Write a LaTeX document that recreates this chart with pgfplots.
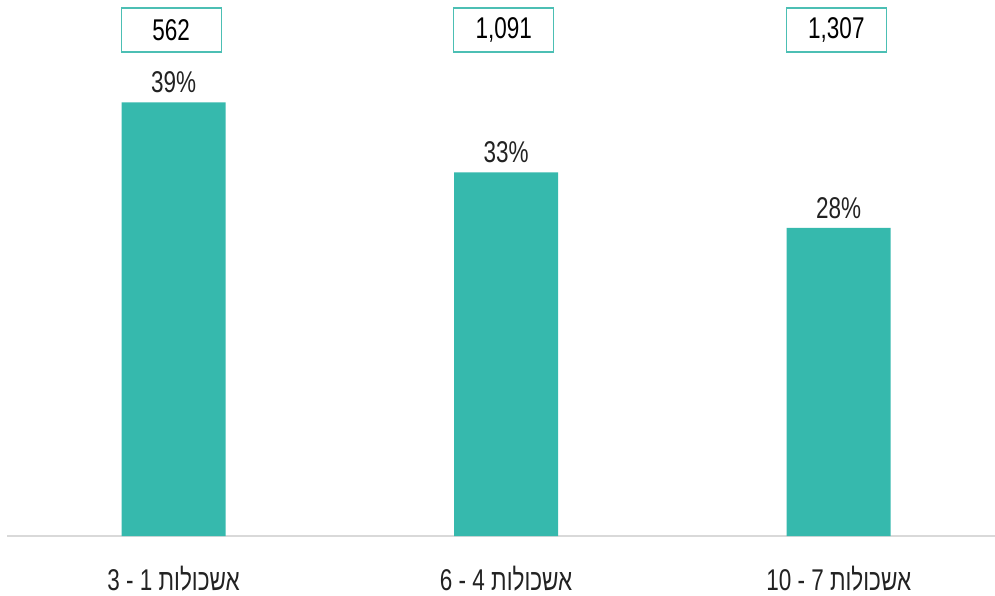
\documentclass[border=0pt]{standalone}
\usepackage{fontspec}
\setmainfont[FakeStretch=0.75]{Liberation Sans}
\newfontfamily\hebfont[Script=Hebrew,FakeStretch=0.75]{Liberation Sans}
\TeXXeTstate=1
\usepackage{pgfplots}
\pgfplotsset{compat=1.18}
\definecolor{barteal}{HTML}{36B9AD}
\definecolor{boxteal}{HTML}{4CBFB4}
\definecolor{axisgray}{HTML}{D9D9D9}
\definecolor{txt}{HTML}{222222}
\newcommand{\heb}[1]{{\hebfont\beginR #1\endR}}
\begin{document}
\begin{tikzpicture}
\useasboundingbox (0,0) rectangle (995pt,595pt);
\begin{axis}[
  at={(7.25pt,59pt)}, anchor=south west,
  scale only axis,
  width=987.75pt, height=536pt,
  xmin=-0.5, xmax=2.47,
  ymin=0, ymax=48.2,
  axis x line*=bottom,
  axis y line=none,
  x axis line style={draw=axisgray, line width=2pt, -},
  xtick={0,1,2},
  xticklabels={{3 - 1 \heb{אשכולות}},{6 - 4 \heb{אשכולות}},{10 - 7 \heb{אשכולות}}},
  major tick length=0pt,
  xticklabel style={anchor=base, yshift=-54pt, font=\fontsize{30}{36}\selectfont, text=txt},
  clip=false,
  ]
  \addplot[ybar, bar width=104pt, fill=barteal, draw=none,
    point meta=explicit symbolic,
    nodes near coords={\pgfplotspointmeta\%},
    nodes near coords style={anchor=south, inner sep=0pt, yshift=9pt, text=txt, font=\fontsize{30}{36}\selectfont}]
    coordinates {(0,39) [39] (1,32.7) [33] (2,27.7) [28]};
  \addplot[draw=none, mark=none, point meta=explicit symbolic,
    nodes near coords={\pgfplotspointmeta},
    nodes near coords style={anchor=center, draw=boxteal, line width=1.3pt, fill=white,
      minimum width=100pt, minimum height=44pt, inner sep=0pt, text=black,
      font=\fontsize{30}{36}\selectfont}]
    coordinates {(-0.007,45.5) [562] (0.993,45.5) [1,091] (1.993,45.5) [1,307]};
\end{axis}
\end{tikzpicture}
\end{document}
